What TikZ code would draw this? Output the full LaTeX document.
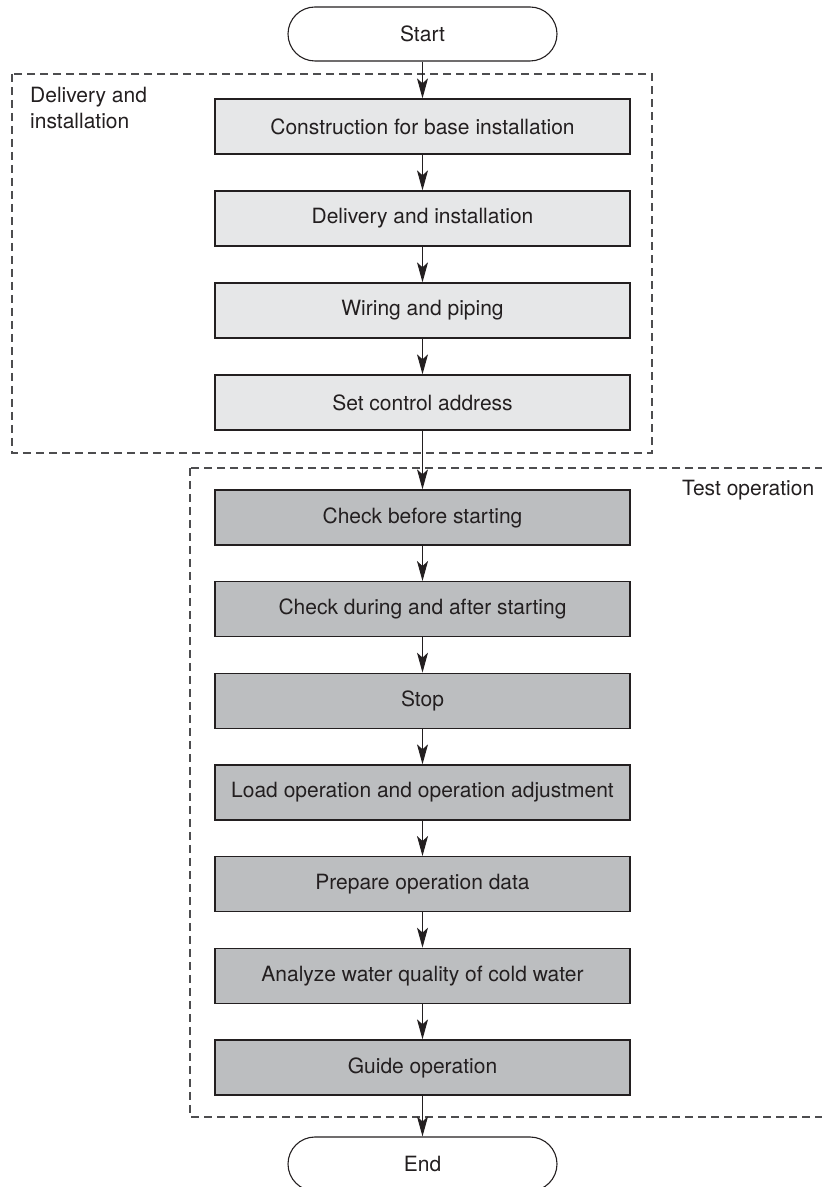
\documentclass[tikz,border=0pt]{standalone}
\usepackage{fontspec}
\setmainfont{TeX Gyre Heros}
\usetikzlibrary{arrows.meta}
\definecolor{ink}{HTML}{231F20}
\definecolor{pale}{HTML}{E6E7E8}
\definecolor{mid}{HTML}{BCBEC0}
\definecolor{frame}{HTML}{4D4D4F}

\begin{document}
\begin{tikzpicture}[x=1pt,y=1pt,
    every node/.style={text=ink,font=\fontsize{21pt}{26pt}\selectfont},
    stepbox/.style={draw=ink,line width=1.3pt,minimum width=415pt,minimum height=55pt,inner sep=0pt},
    palebox/.style={stepbox,fill=pale},
    midbox/.style={stepbox,fill=mid},
    terminal/.style={draw=ink,line width=1.1pt,rounded corners=27pt,minimum width=269pt,minimum height=54pt,inner sep=0pt},
    flow/.style={draw=ink,line width=1pt,-{Stealth[length=20pt,width=11pt,inset=5pt]}},
    groupframe/.style={draw=frame,line width=1.2pt,dash pattern=on 8pt off 5pt}]
    \useasboundingbox (0,0) rectangle (822,1187);
    % groups
    \draw[groupframe] (12,1113) rectangle (652,734);
    \draw[groupframe] (190,719) rectangle (826,70);
    \node[anchor=north west,align=left,inner sep=0pt] (lab1) at (30,1100) {Delivery and\\installation};
    \node[anchor=west,inner sep=0pt] (lab2) at (682,697) {Test operation};
    % terminals
    \node[terminal] (start) at (422.5,1153) {Start};
    \node[terminal] (end) at (422.5,23) {End};
    % delivery and installation
    \node[palebox] (b1) at (422.5,1060.5) {Construction for base installation};
    \node[palebox] (b2) at (422.5,968.5) {Delivery and installation};
    \node[palebox] (b3) at (422.5,876.5) {Wiring and piping};
    \node[palebox] (b4) at (422.5,784.5) {Set control address};
    % test operation
    \node[midbox] (t1) at (422.5,669.5) {Check before starting};
    \node[midbox] (t2) at (422.5,577.8) {Check during and after starting};
    \node[midbox] (t3) at (422.5,486.2) {Stop};
    \node[midbox] (t4) at (422.5,394.5) {Load operation and operation adjustment};
    \node[midbox] (t5) at (422.5,302.8) {Prepare operation data};
    \node[midbox] (t6) at (422.5,211.2) {Analyze water quality of cold water};
    \node[midbox] (t7) at (422.5,119.5) {Guide operation};
    % connectors
    \draw[flow] (start) -- (b1);
    \draw[flow] (b1) -- (b2);
    \draw[flow] (b2) -- (b3);
    \draw[flow] (b3) -- (b4);
    \draw[flow] (b4) -- (t1);
    \draw[flow] (t1) -- (t2);
    \draw[flow] (t2) -- (t3);
    \draw[flow] (t3) -- (t4);
    \draw[flow] (t4) -- (t5);
    \draw[flow] (t5) -- (t6);
    \draw[flow] (t6) -- (t7);
    \draw[flow] (t7) -- (end);
\end{tikzpicture}
\end{document}
